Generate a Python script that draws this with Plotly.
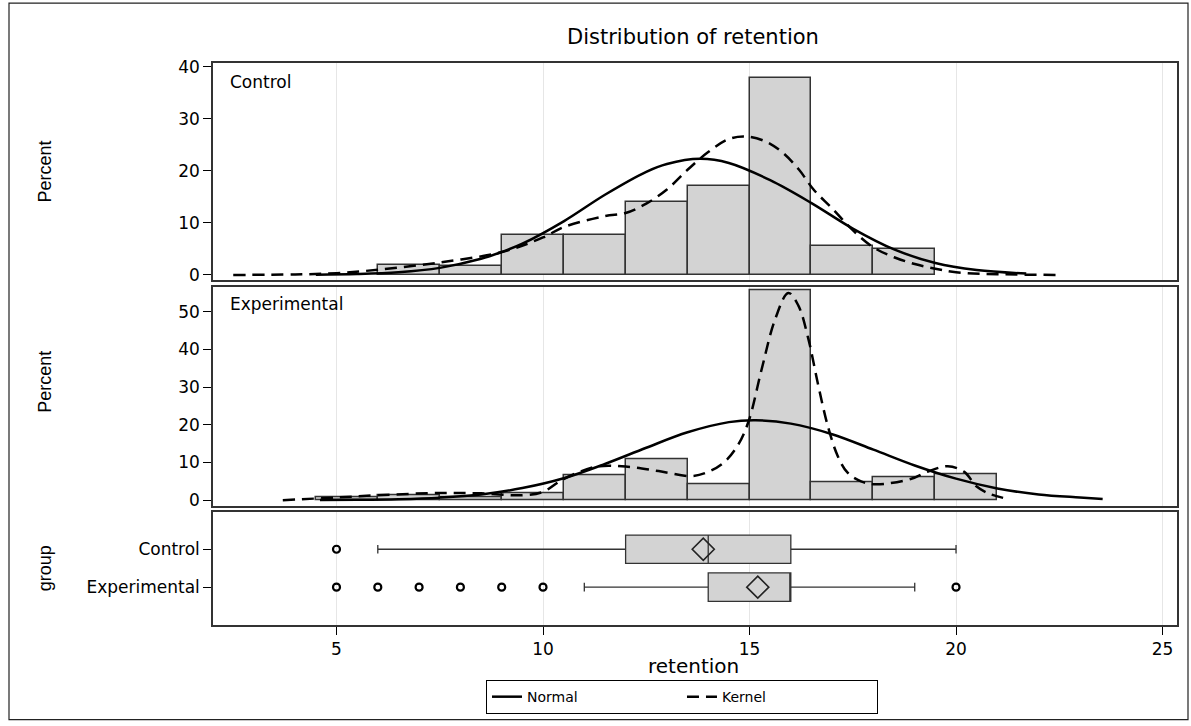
import plotly.graph_objects as go

# ---------------- data ----------------
groups = ["Control", "Experimental"]

# histogram (bin width 1.5, percent)
control_mid = [6.75, 8.25, 9.75, 11.25, 12.75, 14.25, 15.75, 17.25, 18.75]
control_pct = [2.0, 1.7, 7.7, 7.7, 14.0, 17.0, 37.8, 5.5, 5.0]
exp_mid = [5.25, 6.75, 8.25, 9.75, 11.25, 12.75, 14.25, 15.75, 17.25, 18.75, 20.25]
exp_pct = [0.9, 1.4, 0.9, 1.8, 6.5, 10.8, 4.2, 55.6, 4.7, 6.1, 6.8]
bin_width = 1.5

# normal curves
control_norm_x = [4.5, 5.5, 6.5, 7.5, 8.5, 9.0, 9.5, 10.5, 11.5, 12.5, 13.0, 13.8, 14.5, 15.5, 16.5, 17.5, 18.5, 19.5, 20.5, 21.7]
control_norm_y = [0.05, 0.17, 0.52, 1.36, 3.1, 4.4, 6.0, 10.3, 15.4, 19.8, 21.3, 22.3, 21.5, 18.2, 13.8, 8.9, 4.9, 2.3, 0.95, 0.27]
exp_norm_x = [4.6, 5.5, 6.5, 7.5, 8.5, 9.5, 10.5, 11.5, 12.5, 13.5, 14.5, 15.15, 16.0, 17.0, 18.0, 19.0, 20.0, 21.0, 22.0, 23.0, 23.55]
exp_norm_y = [0.03, 0.08, 0.25, 0.66, 1.5, 3.2, 5.8, 9.6, 13.9, 18.0, 20.7, 21.2, 20.3, 17.5, 13.4, 9.2, 5.7, 3.1, 1.5, 0.7, 0.32]

# kernel curves
control_kern_x = [2.5, 4.0, 5.0, 6.0, 7.5, 9.0, 10.0, 10.5, 11.5, 12.0, 12.5, 13.0, 13.5, 14.0, 14.5, 14.9, 15.4, 15.8, 16.2, 16.55, 17.0, 17.5, 18.0, 18.5, 19.0, 19.5, 20.0, 21.0, 22.5]
control_kern_y = [0.0, 0.1, 0.35, 1.0, 2.4, 4.4, 7.2, 9.2, 11.3, 11.9, 13.7, 16.4, 20.2, 23.6, 26.1, 26.6, 25.6, 23.5, 20.2, 16.4, 12.8, 8.6, 5.3, 3.4, 2.1, 1.2, 0.5, 0.15, 0.0]
exp_kern_x = [3.7, 5.0, 6.0, 7.5, 8.5, 9.5, 10.0, 10.5, 11.3, 12.0, 12.8, 13.6, 14.0, 14.4, 14.73, 14.98, 15.3, 15.62, 15.94, 16.18, 16.42, 16.66, 16.9, 17.14, 17.38, 17.7, 18.05, 18.9, 19.3, 19.8, 20.2, 20.5, 20.83, 21.3]
exp_kern_y = [0.0, 0.7, 1.3, 1.9, 1.8, 1.3, 2.2, 5.6, 8.9, 8.9, 7.7, 6.4, 7.5, 10.2, 14.8, 21.0, 35.0, 48.0, 55.0, 51.7, 43.0, 30.7, 19.5, 11.6, 7.2, 5.0, 4.2, 5.6, 7.5, 9.0, 7.5, 3.6, 1.6, 0.2]

# box plot statistics
box_q1 = [12, 14]
box_median = [14, 16]
box_q3 = [16, 16]
box_lower = [6, 11]
box_upper = [20, 19]
box_mean = [13.88, 15.2]
control_outliers = [5]
exp_outliers = [5, 6, 7, 8, 9, 10, 20]

# ---------------- figure ----------------
FONT = "DejaVu Sans"
BAR_FILL = "#d3d3d3"
EDGE = "#333333"
fig = go.Figure()

panels = [
    ("x", "y", control_mid, control_pct, control_norm_x, control_norm_y, control_kern_x, control_kern_y, True),
    ("x2", "y2", exp_mid, exp_pct, exp_norm_x, exp_norm_y, exp_kern_x, exp_kern_y, False),
]
for xa, ya, mids, pct, nx, ny, kx, ky, leg in panels:
    fig.add_trace(go.Bar(x=mids, y=pct, width=bin_width, xaxis=xa, yaxis=ya,
                         marker=dict(color=BAR_FILL, line=dict(color=EDGE, width=1.5)),
                         showlegend=False))
    fig.add_trace(go.Scatter(x=nx, y=ny, mode="lines", name="Normal", xaxis=xa, yaxis=ya,
                             line=dict(color="black", width=2.5, shape="spline"),
                             showlegend=leg))
    fig.add_trace(go.Scatter(x=kx, y=ky, mode="lines", name="Kernel", xaxis=xa, yaxis=ya,
                             line=dict(color="black", width=2.5, dash="12px,7px", shape="spline"),
                             showlegend=leg))

outliers = [control_outliers, exp_outliers]
for i, g in enumerate(groups):
    fig.add_trace(go.Box(y=[i], q1=[box_q1[i]], median=[box_median[i]], q3=[box_q3[i]],
                         lowerfence=[box_lower[i]], upperfence=[box_upper[i]],
                         orientation="h", width=0.75, whiskerwidth=0.3,
                         fillcolor=BAR_FILL, line=dict(color=EDGE, width=1.3),
                         boxpoints=False, xaxis="x3", yaxis="y3", showlegend=False,
                         name=g))
    fig.add_trace(go.Scatter(x=[box_mean[i]], y=[i], mode="markers", xaxis="x3", yaxis="y3",
                             marker=dict(symbol="diamond-open", size=17, color="#222222",
                                         line=dict(width=1.6, color="#222222")),
                             showlegend=False))
    fig.add_trace(go.Scatter(x=outliers[i], y=[i] * len(outliers[i]), mode="markers",
                             xaxis="x3", yaxis="y3",
                             marker=dict(symbol="circle-open", size=7, color="black",
                                         line=dict(width=2.2, color="black")),
                             showlegend=False))

xrange = [2.01, 25.35]
common_x = dict(range=xrange, showgrid=True, gridcolor="#e6e6e6", gridwidth=1,
                showline=True, mirror=True, linecolor=EDGE, linewidth=1.5, zeroline=False)
common_y = dict(showgrid=False, showline=True, mirror=True, linecolor=EDGE, linewidth=1.5,
                zeroline=False, ticks="outside", ticklen=8, tickcolor="black", tickwidth=1.3,
                tickfont=dict(family=FONT, size=17, color="black"))

fig.update_layout(
    width=1191, height=726,
    margin=dict(l=213, r=14, t=63, b=99),
    paper_bgcolor="white", plot_bgcolor="white",
    bargap=0,
    xaxis=dict(domain=[0, 1], anchor="y", matches="x3", showticklabels=False, ticks="", **common_x),
    xaxis2=dict(domain=[0, 1], anchor="y2", matches="x3", showticklabels=False, ticks="", **common_x),
    xaxis3=dict(domain=[0, 1], anchor="y3", tickvals=[5, 10, 15, 20, 25], ticks="outside",
                ticklen=8, tickcolor="black", tickwidth=1.3,
                tickfont=dict(family=FONT, size=17, color="black"), **common_x),
    yaxis=dict(domain=[0.6135, 1.0], range=[-1.01, 40.7], tickvals=[0, 10, 20, 30, 40], anchor="x", **common_y),
    yaxis2=dict(domain=[0.211, 0.601], range=[-1.67, 56.5], tickvals=[0, 10, 20, 30, 40, 50], anchor="x2", **common_y),
    yaxis3=dict(domain=[0.0, 0.2004], range=[2.0, -0.974], tickvals=[0, 1], ticktext=groups, anchor="x3", **common_y),
    legend=dict(orientation="h", x=0.4865, xanchor="center", y=-0.098, yanchor="top",
                bordercolor="black", borderwidth=1, bgcolor="white",
                font=dict(family=FONT, size=14, color="black"), entrywidth=150),
    showlegend=True,
)

ann = [
    dict(text="Distribution of retention", x=0.498, y=1.0 + (63 - 37) / 564, xref="paper", yref="paper",
         showarrow=False, font=dict(family=FONT, size=21, color="black"), xanchor="center", yanchor="middle"),
    dict(text="Control", x=(228 - 213) / 964, y=(627 - 82) / 564, xref="paper", yref="paper",
         showarrow=False, font=dict(family=FONT, size=17, color="black"), xanchor="left", yanchor="middle"),
    dict(text="Experimental", x=(228 - 213) / 964, y=(627 - 305) / 564, xref="paper", yref="paper",
         showarrow=False, font=dict(family=FONT, size=17, color="black"), xanchor="left", yanchor="middle"),
    dict(text="Percent", x=(45 - 213) / 964, y=(627 - 172) / 564, xref="paper", yref="paper", textangle=-90,
         showarrow=False, font=dict(family="Liberation Sans", size=18, color="black"), xanchor="center", yanchor="middle"),
    dict(text="Percent", x=(45 - 213) / 964, y=(627 - 383) / 564, xref="paper", yref="paper", textangle=-90,
         showarrow=False, font=dict(family="Liberation Sans", size=18, color="black"), xanchor="center", yanchor="middle"),
    dict(text="group", x=(45 - 213) / 964, y=(627 - 570) / 564, xref="paper", yref="paper", textangle=-90,
         showarrow=False, font=dict(family="Liberation Sans", size=18, color="black"), xanchor="center", yanchor="middle"),
    dict(text="retention", x=0.498, y=(627 - 668) / 564, xref="paper", yref="paper",
         showarrow=False, font=dict(family=FONT, size=20, color="black"), xanchor="center", yanchor="middle"),
]
fig.update_layout(annotations=ann)

fig.add_shape(type="rect", xref="paper", yref="paper",
              x0=(9 - 213) / 964, x1=(1188 - 213) / 964, y0=(627 - 722) / 564, y1=(627 - 3) / 564,
              line=dict(color="#222222", width=1.2), fillcolor="rgba(0,0,0,0)", layer="below")

fig.write_html("out.html")
